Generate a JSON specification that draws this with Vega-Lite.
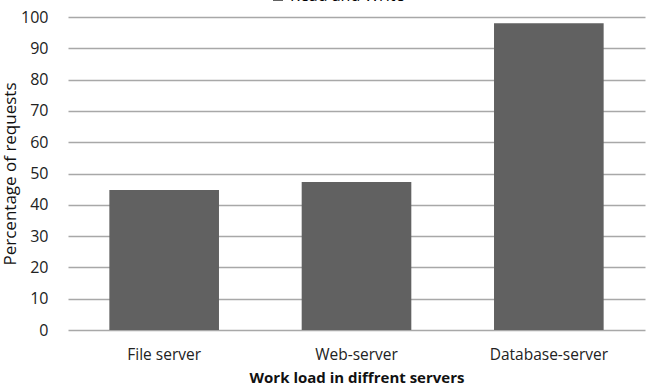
{
  "$schema": "https://vega.github.io/schema/vega-lite/v6.json",
  "width": 577,
  "height": 313,
  "autosize": {"type": "none"},
  "padding": {"left": 68, "top": 17, "right": 6, "bottom": 62},
  "background": "white",
  "data": {"values": [
    {"server": "File server", "pct": 44.7, "series": "Read and Write"},
    {"server": "Web-server", "pct": 47.3, "series": "Read and Write"},
    {"server": "Database-server", "pct": 98, "series": "Read and Write"}
  ]},
  "mark": {"type": "bar", "color": "#616161"},
  "encoding": {
    "x": {
      "field": "server", "type": "nominal", "sort": null,
      "scale": {"paddingInner": 0.43, "paddingOuter": 0.215},
      "axis": {
        "title": "Work load in diffrent servers",
        "labelAngle": 0, "labelFont": "Open Sans", "labelFontSize": 15.5, "labelColor": "#222",
        "labelPadding": 17, "ticks": false, "domain": false,
        "titleFont": "Open Sans", "titleFontSize": 15, "titleFontWeight": "bold", "titleColor": "#111",
        "titlePadding": 8
      }
    },
    "y": {
      "field": "pct", "type": "quantitative",
      "scale": {"domain": [0, 100], "nice": false},
      "axis": {
        "title": "Percentage of requests",
        "values": [0, 10, 20, 30, 40, 50, 60, 70, 80, 90, 100],
        "labelFont": "Open Sans", "labelFontSize": 16, "labelColor": "#222",
        "labelPadding": 20, "ticks": false, "domain": false,
        "grid": true, "gridColor": "#a8a8a8", "gridWidth": 1.5,
        "titleFont": "Open Sans", "titleFontSize": 17, "titleFontWeight": "normal", "titleColor": "#111",
        "titlePadding": 1
      }
    },
    "fill": {
      "field": "series", "type": "nominal",
      "scale": {"range": ["#616161"]},
      "legend": {
        "orient": "none", "legendX": 202, "legendY": -29, "direction": "horizontal",
        "title": null, "labelFont": "Open Sans", "labelFontSize": 16, "symbolType": "square", "symbolSize": 100
      }
    }
  },
  "config": {"view": {"stroke": null}}
}
